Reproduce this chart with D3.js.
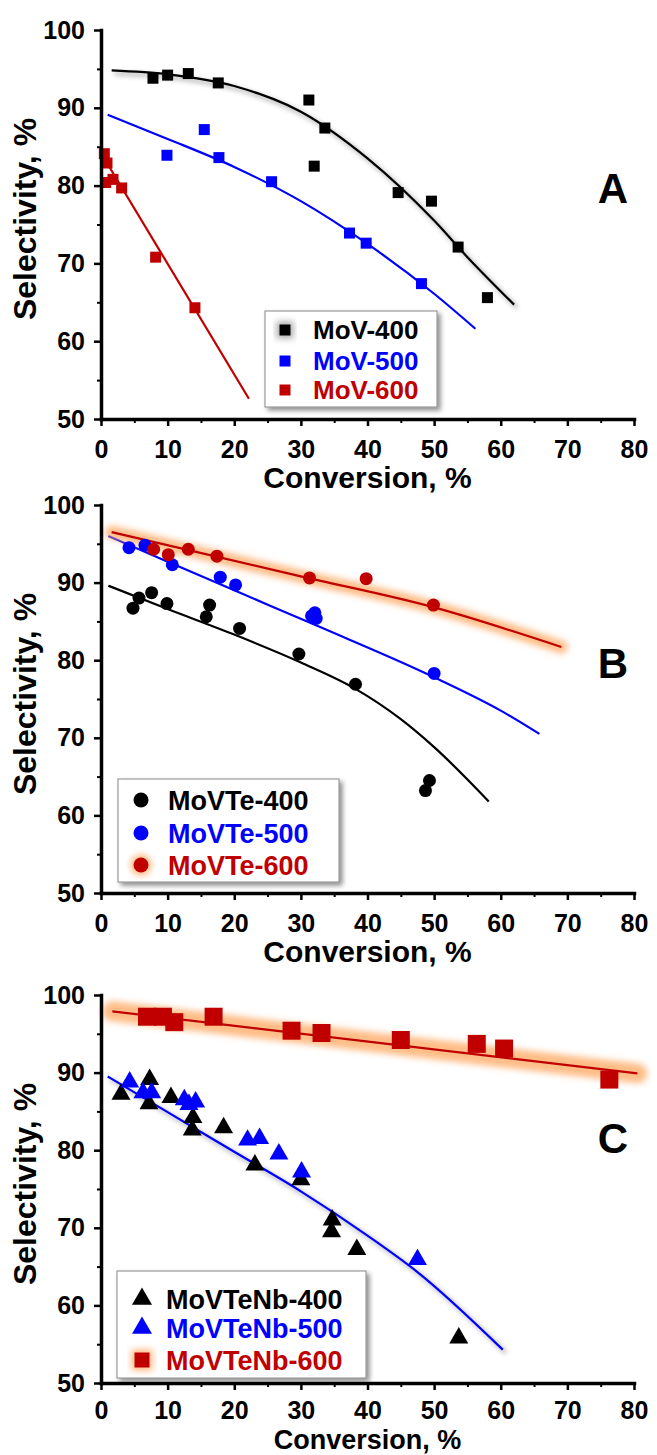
<!DOCTYPE html>
<html>
<head>
<meta charset="utf-8">
<script src="https://cdn.jsdelivr.net/npm/d3@7"></script>
<style>
  body { margin: 0; background: #fff; }
  svg text { font-family: "Liberation Sans", Arial, sans-serif; font-weight: bold; }
</style>
</head>
<body>
<svg id="chart" width="657" height="1455"></svg>
<script>
// axis ticks (shared by all three panels)
const xTicks = [0, 10, 20, 30, 40, 50, 60, 70, 80];
const xMinor = [5, 15, 25, 35, 45, 55, 65, 75];
const yTicks = [50, 60, 70, 80, 90, 100];
const yMinor = [55, 65, 75, 85, 95];

// Panel A: [conversion, selectivity]
const mov400 = [[7.8, 93.8], [10, 94.2], [13.1, 94.4], [17.6, 93.2], [31.2, 91.0], [32, 82.5], [33.6, 87.4], [44.6, 79.1], [49.6, 78.0], [53.6, 72.1], [58, 65.6]];
const mov500 = [[9.9, 83.9], [15.5, 87.2], [17.7, 83.6], [25.6, 80.5], [37.3, 73.9], [39.8, 72.6], [48.1, 67.4]];
const mov600 = [[0.5, 84.1], [0.9, 82.9], [0.7, 80.4], [1.8, 80.8], [3.1, 79.7], [8.2, 70.8], [14.1, 64.3]];
const mov400Fit = [[1.6, 94.8], [10, 94.3], [20, 92.8], [30, 89.5], [40, 83.5], [50, 75.5], [55, 70.8], [62, 64.7]];
const mov500Fit = [[1, 89.1], [10, 86.0], [20, 82.4], [30, 78.0], [40, 72.5], [50, 66.1], [56.2, 61.6]];
const mov600Fit = [[0.9, 82.9], [22.2, 52.6]];

// Panel B
const movte400 = [[4.8, 86.7], [5.7, 88.0], [7.6, 88.7], [9.9, 87.3], [15.8, 85.6], [16.3, 87.1], [20.8, 84.1], [29.7, 80.8], [38.2, 76.9], [48.7, 63.2], [49.3, 64.5]];
const movte500 = [[4.2, 94.5], [6.6, 94.8], [10.7, 92.3], [17.9, 90.7], [20.2, 89.7], [31.6, 85.7], [32.1, 86.1], [32.3, 85.4], [50, 78.3]];
const movte600 = [[7.9, 94.3], [10.1, 93.6], [13.1, 94.3], [17.4, 93.4], [31.3, 90.6], [39.8, 90.5], [49.9, 87.1]];
const movte400Fit = [[1.1, 89.6], [10, 86.6], [20, 83.3], [30, 79.7], [38, 76.4], [45, 72.4], [50, 68.8], [58.2, 61.8]];
const movte500Fit = [[1.1, 96.0], [10, 92.7], [20, 89.0], [32.8, 84.3], [50, 77.8], [60, 73.5], [65.8, 70.5]];
const movte600Fit = [[1.6, 96.5], [30, 90.8], [50, 86.8], [69.1, 81.7]];

// Panel C
const nb400 = [[3.0, 87.2], [7.3, 89.1], [7.2, 86.0], [10.5, 86.8], [13.8, 84.2], [13.7, 82.6], [18.4, 82.9], [23.1, 78.1], [30.0, 76.2], [34.7, 71.0], [34.6, 69.5], [38.4, 67.2], [53.7, 55.8]];
const nb500 = [[4.3, 88.8], [6.3, 87.4], [7.6, 87.4], [12.5, 86.5], [13.2, 85.9], [14.2, 86.2], [22.0, 81.3], [23.8, 81.5], [26.7, 79.5], [30.1, 77.2], [47.5, 65.9]];
const nb600 = [[6.9, 97.2], [9.3, 97.2], [11.0, 96.5], [16.9, 97.2], [28.6, 95.4], [33.1, 95.1], [45.0, 94.2], [56.4, 93.7], [60.5, 93.1], [76.3, 89.1]];
const nb500Fit = [[1, 89.5], [10, 84.9], [20, 79.8], [30, 74.7], [40, 69.0], [47.5, 64.3], [60.3, 54.3]];
const nb600Fit = [[1.7, 97.9], [80.5, 89.9]];

const BLACK = '#000000', BLUE = '#0000ff', RED = '#c00000';

const panels = [
  {
    top: 30, bottom: 419, letter: 'A', letterDy: 173, titleDy: 69, titleSize: 30, tickPad: 14,
    legend: { x: 265, y: 311, w: 172, h: 96, symX: 285, textX: 313, rows: [19, 50, 79], font: 26 },
    series: [
      { name: 'MoV-400', pts: mov400, fit: mov400Fit, color: BLACK, shape: 'square', size: 11, legSize: 11, fitFx: 'shadow', legFx: 'gray' },
      { name: 'MoV-500', pts: mov500, fit: mov500Fit, color: BLUE, shape: 'square', size: 11, legSize: 11 },
      { name: 'MoV-600', pts: mov600, fit: mov600Fit, color: RED, shape: 'square', size: 11, legSize: 11 }
    ]
  },
  {
    top: 505, bottom: 893, letter: 'B', letterDy: 173, titleDy: 69, titleSize: 30, tickPad: 14,
    legend: { x: 118, y: 779, w: 221, h: 103, symX: 141, textX: 168, rows: [21, 54, 86], font: 27 },
    series: [
      { name: 'MoVTe-400', pts: movte400, fit: movte400Fit, color: BLACK, shape: 'circle', size: 13, legSize: 15 },
      { name: 'MoVTe-500', pts: movte500, fit: movte500Fit, color: BLUE, shape: 'circle', size: 13, legSize: 15 },
      { name: 'MoVTe-600', pts: movte600, fit: movte600Fit, color: RED, shape: 'circle', size: 13, legSize: 15, fitFx: 'glow', glowW: 13, legFx: 'orange' }
    ]
  },
  {
    top: 995, bottom: 1383, letter: 'C', letterDy: 158, titleDy: 66, titleSize: 27, tickPad: 11,
    legend: { x: 117, y: 1271, w: 249, h: 107, symX: 142, textX: 166, rows: [28, 57, 89], font: 27 },
    series: [
      { name: 'MoVTeNb-400', pts: nb400, fit: null, color: BLACK, shape: 'triangle', size: 19, legSize: 20 },
      { name: 'MoVTeNb-500', pts: nb500, fit: nb500Fit, color: BLUE, shape: 'triangle', size: 19, legSize: 20, fitFx: 'shadow' },
      { name: 'MoVTeNb-600', pts: nb600, fit: nb600Fit, color: RED, shape: 'square', size: 18, legSize: 15, fitFx: 'glow', glowW: 20, legFx: 'orange' }
    ]
  }
];

const svg = d3.select('#chart');
const defs = svg.append('defs');
defs.append('filter').attr('id', 'blur')
  .attr('x', '-20%').attr('y', '-50%').attr('width', '140%').attr('height', '200%')
  .append('feGaussianBlur').attr('stdDeviation', 3);
defs.append('filter').attr('id', 'dshadow')
  .attr('x', '-20%').attr('y', '-20%').attr('width', '150%').attr('height', '150%')
  .append('feDropShadow').attr('dx', 3).attr('dy', 3).attr('stdDeviation', 2.5)
  .attr('flood-color', '#000').attr('flood-opacity', 0.45);

const x = d3.scaleLinear().domain([0, 80]).range([101, 634]);

function symbolPath(shape, size) {
  if (shape === 'square') return d3.symbol(d3.symbolSquare, size * size)();
  if (shape === 'circle') return d3.symbol(d3.symbolCircle, Math.PI * size * size / 4)();
  // equilateral triangle, size = base width
  return d3.symbol(d3.symbolTriangle, size * size * Math.sqrt(3) / 4)();
}

panels.forEach(p => {
  const y = d3.scaleLinear().domain([50, 100]).range([p.bottom, p.top]);
  const g = svg.append('g');

  const line = d3.line()
    .x(d => x(d[0]))
    .y(d => y(d[1]))
    .curve(d3.curveMonotoneX);

  // fitted curves
  p.series.forEach(s => {
    if (!s.fit) return;
    if (s.fitFx === 'glow') {
      g.append('path').datum(s.fit)
        .attr('d', line)
        .attr('fill', 'none')
        .attr('stroke', '#ffa760')
        .attr('stroke-opacity', 0.75)
        .attr('stroke-width', s.glowW)
        .attr('stroke-linecap', 'round')
        .attr('filter', 'url(#blur)');
    }
    g.append('path').datum(s.fit)
      .attr('d', line)
      .attr('fill', 'none')
      .attr('stroke', s.color)
      .attr('stroke-width', 2.2)
      .attr('filter', s.fitFx === 'shadow' ? 'url(#dshadow)' : null);
  });

  // data points
  p.series.forEach(s => {
    g.append('g').selectAll('path')
      .data(s.pts)
      .join('path')
      .attr('d', symbolPath(s.shape, s.size))
      .attr('transform', d => `translate(${x(d[0])},${y(d[1])})`)
      .attr('fill', s.color);
  });

  // axes
  const xAxis = g.append('g')
    .attr('transform', `translate(0,${p.bottom})`)
    .call(d3.axisBottom(x).tickValues(xTicks).tickSize(7).tickPadding(p.tickPad).tickSizeOuter(0));
  g.append('g')
    .attr('transform', `translate(0,${p.bottom})`)
    .call(d3.axisBottom(x).tickValues(xMinor).tickSize(4).tickFormat('').tickSizeOuter(0))
    .call(a => a.select('.domain').remove())
    .selectAll('.tick line').attr('stroke-width', 2);

  const yAxis = g.append('g')
    .attr('transform', `translate(${x(0)},0)`)
    .call(d3.axisLeft(y).tickValues(yTicks).tickSize(7).tickPadding(9).tickSizeOuter(0));
  g.append('g')
    .attr('transform', `translate(${x(0)},0)`)
    .call(d3.axisLeft(y).tickValues(yMinor).tickSize(4).tickFormat('').tickSizeOuter(0))
    .call(a => a.select('.domain').remove())
    .selectAll('.tick line').attr('stroke-width', 2);

  [xAxis, yAxis].forEach(a => {
    a.attr('font-family', null).attr('font-size', null);
    a.select('.domain').attr('stroke-width', 3.5).attr('stroke-linecap', 'square');
    a.selectAll('.tick line').attr('stroke-width', 2.5);
    a.selectAll('.tick text').attr('font-size', 25).attr('fill', '#000');
  });

  // axis titles
  g.append('text')
    .attr('x', (x(0) + x(80)) / 2)
    .attr('y', p.bottom + p.titleDy)
    .attr('text-anchor', 'middle')
    .attr('font-size', p.titleSize)
    .text('Conversion, %');
  g.append('text')
    .attr('transform', `translate(36,${p.top + 189}) rotate(-90)`)
    .attr('text-anchor', 'middle')
    .attr('font-size', 32)
    .text('Selectivity, %');

  // panel letter
  g.append('text')
    .attr('x', 613)
    .attr('y', p.top + p.letterDy)
    .attr('text-anchor', 'middle')
    .attr('font-size', 42)
    .text(p.letter);

  // legend
  const L = p.legend;
  const lg = g.append('g');
  lg.append('rect')
    .attr('x', L.x).attr('y', L.y)
    .attr('width', L.w).attr('height', L.h)
    .attr('fill', '#fff')
    .attr('stroke', '#888')
    .attr('stroke-width', 1)
    .attr('filter', 'url(#dshadow)');
  p.series.forEach((s, i) => {
    const cy = L.y + L.rows[i];
    if (s.legFx) {
      lg.append('path')
        .attr('d', symbolPath(s.shape, s.legSize + 6))
        .attr('transform', `translate(${L.symX},${cy})`)
        .attr('fill', s.legFx === 'orange' ? '#ffa760' : '#999')
        .attr('opacity', 0.8)
        .attr('filter', 'url(#blur)');
    }
    lg.append('path')
      .attr('d', symbolPath(s.shape, s.legSize))
      .attr('transform', `translate(${L.symX},${cy})`)
      .attr('fill', s.color);
    lg.append('text')
      .attr('x', L.textX)
      .attr('y', cy + L.font * 0.36)
      .attr('font-size', L.font)
      .attr('fill', s.color)
      .text(s.name);
  });
});
</script>
</body>
</html>
